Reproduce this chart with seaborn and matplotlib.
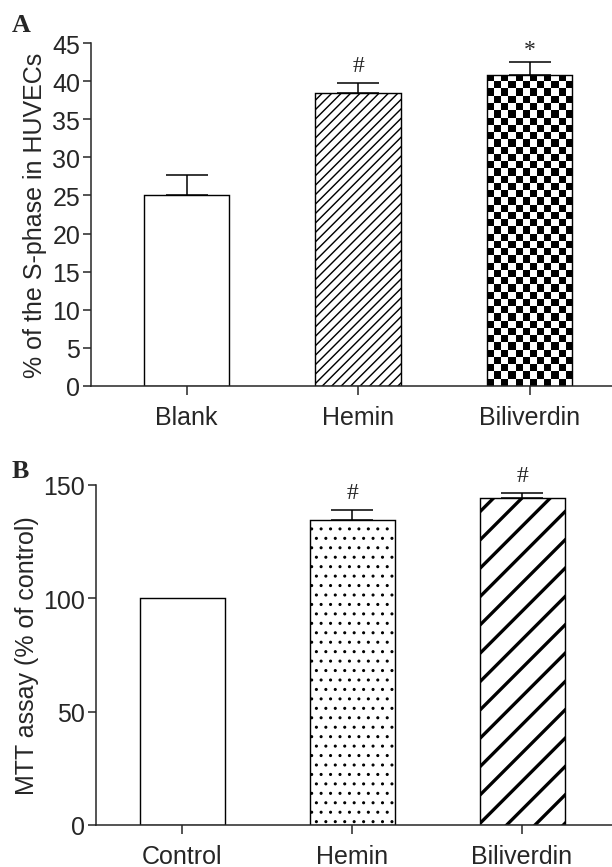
import numpy as np
import matplotlib
matplotlib.use("Agg")
import matplotlib.pyplot as plt
import seaborn as sns

# Panel A: S-phase fraction of HUVECs
groups_a = ["Blank", "Hemin", "Biliverdin"]
sphase = [25.0, 38.4, 40.85]
sphase_err = [2.7, 1.4, 1.65]
marks_a = ["", "#", "*"]

# Panel B: MTT assay
groups_b = ["Control", "Hemin", "Biliverdin"]
mtt = [100.0, 134.5, 144.4]
mtt_err = [0.0, 4.5, 2.1]
marks_b = ["", "#", "#"]

W, H, DPI = 612, 868, 170
FS = 10.6


def px_box(left, top, right, bottom):
    return [left / W, 1 - bottom / H, (right - left) / W, (bottom - top) / H]


def set_hatch(bar, pattern, lw):
    bar.set_hatch(pattern)
    if hasattr(bar, "set_hatch_linewidth"):
        bar.set_hatch_linewidth(lw)


def add_checker(ax, bar, cell_px=7.2):
    # checkerboard fill clipped to the bar
    x0, w, h = bar.get_x(), bar.get_width(), bar.get_height()
    (px0, py0), (px1, py1) = ax.transData.transform([(x0, 0), (x0 + w, h)])
    ncol = max(1, round((px1 - px0) / cell_px))
    nrow = max(1, round((py1 - py0) / cell_px))
    board = np.add.outer(np.arange(nrow), np.arange(ncol)) % 2
    im = ax.imshow(board, cmap="gray", origin="upper", extent=(x0, x0 + w, 0, h),
                   interpolation="nearest", aspect="auto", zorder=1.5)
    im.set_clip_path(bar)
    bar.set_facecolor("none")
    bar.set_zorder(2)


def draw_panel(ax, groups, values, errs, marks, ymax, yticks, xlim, ylabel):
    sns.barplot(x=groups, y=values, ax=ax, width=0.5, color="white", saturation=1,
                edgecolor="black", linewidth=0.6, errorbar=None, zorder=2)
    pos = np.arange(len(groups))
    vals = np.asarray(values)
    err = np.asarray(errs)
    keep = err > 0
    ax.errorbar(pos[keep], vals[keep], yerr=[np.zeros(keep.sum()), err[keep]], fmt="none",
                ecolor="black", elinewidth=0.65, capsize=9.1, capthick=0.65, zorder=1)
    for p, v, e, m in zip(pos, vals, err, marks):
        if m:
            ax.annotate(m, xy=(p, v + e), xytext=(0, 5.2 if m == "*" else 7.2),
                        textcoords="offset points", ha="center", va="center",
                        fontsize=10, family="Liberation Serif")
    ax.set_xlim(*xlim)
    ax.set_ylim(0, ymax)
    ax.set_yticks(yticks)
    ax.set_xlabel("")
    ax.set_ylabel(ylabel, fontsize=FS, labelpad=2)
    sns.despine(ax=ax)
    for side in ["left", "bottom"]:
        ax.spines[side].set_linewidth(0.65)
    ax.tick_params(axis="both", direction="out", length=3.6, width=0.65, labelsize=FS)
    ax.tick_params(axis="y", pad=1)
    ax.tick_params(axis="x", pad=4.5)


def main():
    sns.set_style("ticks")
    plt.rcParams["font.family"] = ["Liberation Sans", "DejaVu Sans"]
    plt.rcParams["hatch.linewidth"] = 0.5

    fig = plt.figure(figsize=(W / DPI, H / DPI), dpi=DPI)

    ax_a = fig.add_axes(px_box(91, 44, 612, 387))
    draw_panel(ax_a, groups_a, sphase, sphase_err, marks_a, 45, range(0, 46, 5),
               (-0.557, 2.481), "% of the S-phase in HUVECs")
    bars_a = ax_a.patches
    set_hatch(bars_a[1], "//////", 0.6)
    add_checker(ax_a, bars_a[2])
    ax_a.set_xlim(-0.557, 2.481)
    ax_a.set_ylim(0, 45)

    ax_b = fig.add_axes(px_box(96, 486, 612, 826))
    draw_panel(ax_b, groups_b, mtt, mtt_err, marks_b, 150, [0, 50, 100, 150],
               (-0.506, 2.529), "MTT assay (% of control)")
    bars_b = ax_b.patches
    set_hatch(bars_b[1], "...", 0.5)
    set_hatch(bars_b[2], "//", 1.4)

    for label, x, y in [("A", 21, 25), ("B", 20, 472)]:
        fig.text(x / W, 1 - y / H, label, ha="center", va="center", fontsize=11,
                 fontweight="bold", family="Liberation Serif")

    fig.savefig("out.png", dpi=DPI)


if __name__ == "__main__":
    main()
